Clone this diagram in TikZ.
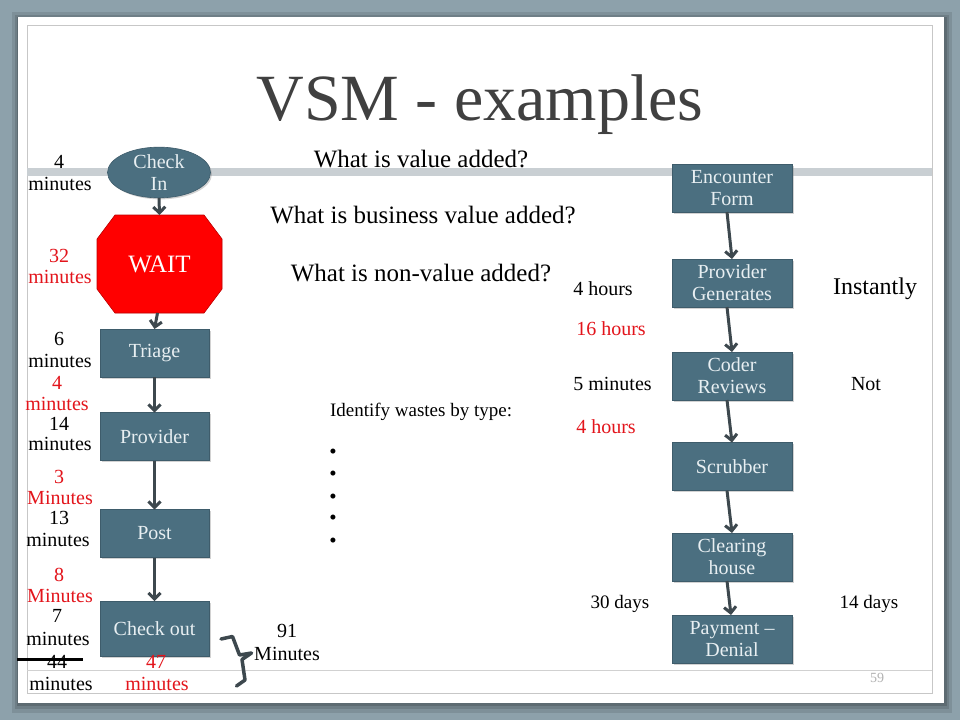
\documentclass[tikz,border=0pt]{standalone}
\usepackage{fontspec}
\setmainfont{Liberation Serif}
\usetikzlibrary{arrows.meta,shapes.geometric,shadows,backgrounds}
\pgfdeclarelayer{backzero}
\pgfsetlayers{backzero,background,main}
\definecolor{bgslate}{HTML}{8DA1AB}
\definecolor{boxblue}{HTML}{4B6F80}
\definecolor{boxedge}{HTML}{3E5C6B}
\definecolor{boxtxt}{HTML}{E8EFF2}
\definecolor{arrgrey}{HTML}{3D484E}
\definecolor{titlegrey}{HTML}{404040}
\definecolor{redtxt}{HTML}{E3141B}
\definecolor{bandgrey}{HTML}{C9CFD3}
\definecolor{waitred}{HTML}{FF0000}
\begin{document}
\begin{tikzpicture}[x=1pt,y=-1pt,
  every node/.style={inner sep=0pt, outer sep=0pt},
  procbox/.style={fill=boxblue, draw=boxedge, line width=0.6pt, text=boxtxt, align=center,
    font=\fontsize{20}{22}\selectfont,
    drop shadow={shadow xshift=1.5pt, shadow yshift=-1.5pt, opacity=0.35}},
  lbox/.style={procbox, rectangle, minimum width=109pt, minimum height=48pt},
  rbox/.style={procbox, rectangle, minimum width=120pt, minimum height=48pt},
  flow/.style={draw=arrgrey, line width=3pt, -{Straight Barb[length=6pt,width=12pt]}},
  blk/.style={anchor=base, font=\fontsize{20}{23}\selectfont},
  red/.style={blk, text=redtxt},
  quest/.style={anchor=base, font=\fontsize{25}{28}\selectfont},
]
\useasboundingbox (0,0) rectangle (960,720);
\begin{pgfonlayer}{backzero}
  \fill[bgslate] (0,0) rectangle (960,720);
  \fill[black, opacity=0.10] (12,12) rectangle (952,713);
  \fill[black, opacity=0.12] (15,15) rectangle (949,709);
  \fill[black, opacity=0.15] (17,17) rectangle (947,706);
  \fill[white] (18,17) rectangle (944,703);
  \draw[black!22, line width=0.8pt] (27,25) rectangle (932,693);
  \fill[bandgrey] (27,168) rectangle (932,176);
  \draw[black!18, line width=0.8pt] (27,670) -- (932,670);
\end{pgfonlayer}

% title
\node[anchor=base, text=titlegrey, font=\fontsize{66}{70}\selectfont] (title) at (480,120) {VSM - examples};

% left flow
\node[procbox, ellipse, minimum width=103pt, minimum height=50pt] (checkin) at (159,172.5) {Check\\In};
\node[minimum width=125pt, minimum height=98pt, text=white, font=\fontsize{25}{28}\selectfont] (wait) at (159.5,264) {WAIT};
\begin{pgfonlayer}{background}
  \fill[black, opacity=0.25, xshift=1.5pt, yshift=-1.5pt]
    ([xshift=18pt]wait.north west) -- ([xshift=-18pt]wait.north east) -- ([yshift=-24pt]wait.north east)
    -- ([yshift=24pt]wait.south east) -- ([xshift=-18pt]wait.south east) -- ([xshift=18pt]wait.south west)
    -- ([yshift=24pt]wait.south west) -- ([yshift=-24pt]wait.north west) -- cycle;
  \draw[fill=waitred, draw=waitred!75!black, line width=0.6pt]
    ([xshift=18pt]wait.north west) -- ([xshift=-18pt]wait.north east) -- ([yshift=-24pt]wait.north east)
    -- ([yshift=24pt]wait.south east) -- ([xshift=-18pt]wait.south east) -- ([xshift=18pt]wait.south west)
    -- ([yshift=24pt]wait.south west) -- ([yshift=-24pt]wait.north west) -- cycle;
\end{pgfonlayer}
\node[lbox] (triage) at (154.5,353) {Triage};
\node[lbox] (provider) at (154.5,436.5) {Provider};
\node[lbox] (post) at (154.5,533.5) {Post};
\node[lbox, minimum height=55pt] (checkout) at (154.5,628.5) {Check out};

\draw[flow] (checkin.south) -- (wait.north);
\draw[flow] ([xshift=-2pt]wait.south) -- (triage.north);
\draw[flow] (triage.south) -- (provider.north);
\draw[flow] (provider.south) -- (post.north);
\draw[flow] (post.south) -- (checkout.north);

% left labels
\node[blk] (a1) at (59,168) {4};
\node[blk] (a2) at (60,190) {minutes};
\node[red] (b1) at (59,262) {32};
\node[red] (b2) at (60,283) {minutes};
\node[blk] (c1) at (59,345) {6};
\node[blk] (c2) at (60,367) {minutes};
\node[red] (d1) at (57,389) {4};
\node[red] (d2) at (57,410) {minutes};
\node[blk] (e1) at (59,430) {14};
\node[blk] (e2) at (60,450) {minutes};
\node[red] (f1) at (59,483) {3};
\node[red] (f2) at (60,504) {Minutes};
\node[blk] (g1) at (59,524) {13};
\node[blk] (g2) at (58,546) {minutes};
\node[red] (h1) at (59,581) {8};
\node[red] (h2) at (60,602) {Minutes};
\node[blk] (i1) at (57,622) {7};
\node[blk] (i2) at (58,645) {minutes};
\node[blk] (j1) at (57,668) {44};
\node[blk] (j2) at (61,690) {minutes};
\draw[black, line width=3pt] (17,659) -- (83,659);
\node[red] (k1) at (156,668) {47};
\node[red] (k2) at (157,690) {minutes};
\node[blk] (m1) at (287,637) {91};
\node[blk] (m2) at (287,660) {Minutes};
\draw[arrgrey, line width=3.5pt, line join=round, line cap=round]
  (221,639) -- (232.5,636.5) -- (239.5,655) -- (251.5,653) -- (242,659.5) -- (245,680) -- (236.5,686);

% questions
\node[quest] (q1) at (421,167) {What is value added?};
\node[quest] (q2) at (423,223) {What is business value added?};
\node[quest] (q3) at (421,281) {What is non-value added?};

% wastes
\node[anchor=base west, font=\fontsize{19}{22}\selectfont] (wastes) at (330,416) {Identify wastes by type:};
\foreach \yy/\nm in {454/u1,476/u2,499/u3,520/u4,543/u5}{
  \node[font=\fontsize{21}{22}\selectfont] (\nm) at (333,\yy) {•};
}

% right flow
\node[rbox] (enc) at (732,188) {Encounter\\Form};
\node[rbox] (pgen) at (732,283) {Provider\\Generates};
\node[rbox] (coder) at (732,376) {Coder\\Reviews};
\node[rbox] (scrub) at (732,466.5) {Scrubber};
\node[rbox] (clear) at (732,557) {Clearing\\house};
\node[rbox] (pay) at (732,639) {Payment --\\Denial};

\draw[flow] ([xshift=-5pt]enc.south) -- (pgen.north);
\draw[flow] ([xshift=-5pt]pgen.south) -- (coder.north);
\draw[flow] ([xshift=-5pt]coder.south) -- (scrub.north);
\draw[flow] ([xshift=-5pt]scrub.south) -- (clear.north);
\draw[flow] ([xshift=-5pt]clear.south) -- ([xshift=-1pt]pay.north);

% right labels
\node[blk] (r1) at (603,295) {4 hours};
\node[red] (r2) at (611,335) {16 hours};
\node[blk] (r3) at (612.5,390) {5 minutes};
\node[red] (r4) at (606,433) {4 hours};
\node[blk, font=\fontsize{19}{22}\selectfont] (r5) at (620,608) {30 days};
\node[anchor=base, font=\fontsize{24}{27}\selectfont] (s1) at (875,294) {Instantly};
\node[blk] (s2) at (866,390) {Not};
\node[blk, font=\fontsize{19}{22}\selectfont] (s3) at (869,608) {14 days};
\node[anchor=base, text=black!30, font=\fontsize{14}{16}\selectfont] (pnum) at (877,682) {59};
\end{tikzpicture}
\end{document}
